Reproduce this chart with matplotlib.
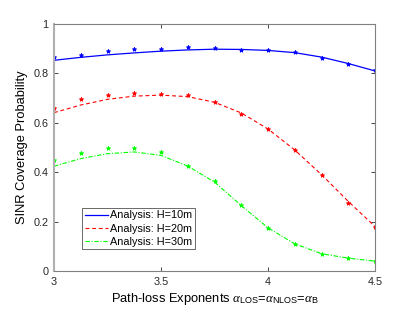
import numpy as np
import matplotlib
matplotlib.use('Agg')
import matplotlib.pyplot as plt

plt.rcParams['font.family'] = ['Liberation Sans', 'DejaVu Sans']
plt.rcParams['mathtext.fontset'] = 'custom'
plt.rcParams['mathtext.rm'] = 'Liberation Sans'
plt.rcParams['mathtext.it'] = 'Liberation Serif:italic'

alpha = [3.0, 3.125, 3.25, 3.375, 3.5, 3.625, 3.75, 3.875, 4.0, 4.125, 4.25, 4.375, 4.5]

# analysis curves
ana_10 = [0.853, 0.865, 0.875, 0.883, 0.890, 0.895, 0.898, 0.897, 0.893, 0.884, 0.866, 0.840, 0.810]
ana_20 = [0.641, 0.672, 0.695, 0.708, 0.712, 0.706, 0.683, 0.640, 0.575, 0.490, 0.390, 0.282, 0.180]
ana_30 = [0.424, 0.455, 0.475, 0.482, 0.468, 0.425, 0.360, 0.265, 0.175, 0.110, 0.070, 0.052, 0.040]

# simulation points
sim_10 = [0.866, 0.876, 0.892, 0.897, 0.897, 0.907, 0.901, 0.896, 0.896, 0.885, 0.862, 0.837, 0.812]
sim_20 = [0.660, 0.696, 0.711, 0.722, 0.718, 0.711, 0.684, 0.636, 0.574, 0.490, 0.389, 0.277, 0.178]
sim_30 = [0.448, 0.478, 0.499, 0.499, 0.483, 0.426, 0.363, 0.266, 0.173, 0.111, 0.070, 0.054, 0.039]

fig = plt.figure(figsize=(4.15, 3.12), dpi=100)
ax = fig.add_axes([54/415, 41/312, 321/415, 247/312])

ax.plot(alpha, ana_10, '-', color='#0000ff', lw=0.9, label='Analysis: H=10m')
ax.plot(alpha, ana_20, '--', color='#ff0000', lw=0.8, dashes=(3.5, 2.5), label='Analysis: H=20m')
ax.plot(alpha, ana_30, '-.', color='#00ff00', lw=0.8, dashes=(4, 1.5, 1, 1.5), label='Analysis: H=30m')
ax.plot(alpha, sim_10, '*', color='#0000ff', ms=3.2, mew=0.6)
ax.plot(alpha, sim_20, '*', color='#ff0000', ms=3.2, mew=0.6)
ax.plot(alpha, sim_30, '*', color='#00ff00', ms=3.2, mew=0.6)

ax.set_xlim(3, 4.5)
ax.set_ylim(0, 1)
ax.set_xticks([3, 3.5, 4, 4.5])
ax.set_xticklabels(['3', '3.5', '4', '4.5'])
ax.set_yticks([0, 0.2, 0.4, 0.6, 0.8, 1])
ax.set_yticklabels(['0', '0.2', '0.4', '0.6', '0.8', '1'])
ax.tick_params(direction='in', top=True, right=True, length=3, width=0.6,
               labelsize=7.8, colors='#262626', pad=4)
for s in ax.spines.values():
    s.set_color('#808080')
    s.set_linewidth(0.8)
ax.spines['left'].set_color('#b0b0b0')
ax.spines['left'].set_linewidth(1.5)

ax.set_xlabel(r'Path-loss Exponents $\alpha_{\rm LOS}$=$\alpha_{\rm NLOS}$=$\alpha_{\rm B}$',
              fontsize=9.3, labelpad=3)
ax.set_ylabel('SINR Coverage Probability', fontsize=9.3, labelpad=4)

leg = ax.legend(loc='lower left', bbox_to_anchor=(0.087, 0.088), fontsize=7.8,
                frameon=True, fancybox=False, borderpad=0.25, labelspacing=0.28,
                handlelength=2.2, handletextpad=0.15, borderaxespad=0)
leg.get_frame().set_edgecolor('#262626')
leg.get_frame().set_linewidth(0.6)

fig.savefig('out.png', dpi=100)
